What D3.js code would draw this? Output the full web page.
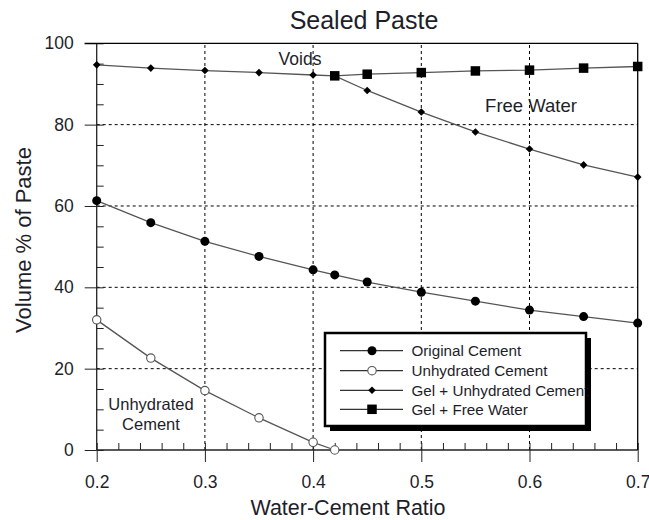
<!DOCTYPE html>
<html>
<head>
<meta charset="utf-8">
<script src="https://cdn.jsdelivr.net/npm/d3@7/dist/d3.min.js"></script>
<style>
  html, body { margin: 0; padding: 0; background: #fff; }
  svg { display: block; font-family: "Liberation Sans", Arial, Helvetica, sans-serif; }
</style>
</head>
<body>
<svg id="chart" width="649" height="520"></svg>
<script>
// Water-cement ratios at which each phase volume was computed
const wcRatio = [0.2, 0.25, 0.3, 0.35, 0.4, 0.42, 0.45, 0.5, 0.55, 0.6, 0.65, 0.7];

// Volume % of paste for each phase
const originalCement = [61.3, 55.9, 51.3, 47.6, 44.3, 43.05, 41.3, 38.8, 36.6, 34.4, 32.8, 31.2];
const unhydratedWc = [0.2, 0.25, 0.3, 0.35, 0.4, 0.42];
const unhydratedCement = [32.0, 22.6, 14.6, 7.9, 1.9, 0.0];
const gelUnhydrated = [94.7, 93.9, 93.3, 92.8, 92.2, 92.0, 88.4, 83.1, 78.2, 74.0, 70.1, 67.1];
const freeWaterWc = [0.42, 0.45, 0.5, 0.55, 0.6, 0.65, 0.7];
const gelFreeWater = [92.0, 92.4, 92.8, 93.2, 93.4, 93.9, 94.3];

const xTicks = [0.2, 0.3, 0.4, 0.5, 0.6, 0.7];
const yTicks = [0, 20, 40, 60, 80, 100];
const legendLabels = ["Original Cement", "Unhydrated Cement", "Gel + Unhydrated Cement", "Gel + Free Water"];

const svg = d3.select("#chart");
const plotLeft = 96.7, plotRight = 637.7, plotTop = 43.3, plotBottom = 450;

const x = d3.scaleLinear().domain([0.2, 0.7]).range([plotLeft, plotRight]);
const y = d3.scaleLinear().domain([0, 100]).range([plotBottom, plotTop]);

const axisColor = "#222";
const lineColor = "#555";
const textColor = "#1e1e2a";

// Dashed grid at interior major ticks
const grid = svg.append("g");
grid.selectAll("line.gx").data(xTicks.filter(d => d > 0.2 && d < 0.7)).join("line")
  .attr("x1", d => x(d)).attr("x2", d => x(d))
  .attr("y1", y(0)).attr("y2", y(100))
  .attr("stroke", "#000").attr("stroke-width", 1).attr("stroke-dasharray", "3,3");
grid.selectAll("line.gy").data(yTicks.filter(d => d > 0 && d < 100)).join("line")
  .attr("x1", x(0.2)).attr("x2", x(0.7))
  .attr("y1", d => y(d)).attr("y2", d => y(d))
  .attr("stroke", "#000").attr("stroke-width", 1).attr("stroke-dasharray", "3,3");

// Bottom axis: major ticks point down, minor ticks point up
const xMajor = d3.axisBottom(x).tickValues(xTicks).tickSize(12).tickPadding(4)
  .tickFormat(d3.format(".1f"));
const gx = svg.append("g").attr("transform", `translate(0,${plotBottom})`).call(xMajor);
gx.select(".domain").remove();
gx.selectAll(".tick line").attr("stroke", axisColor);
gx.selectAll(".tick text").attr("font-size", 17.5).attr("fill", textColor)
  .attr("font-family", "Liberation Sans, Arial, sans-serif").attr("dy", "1.25em");

const xMinor = d3.axisBottom(x).tickValues(d3.range(0.2, 0.7001, 0.02)).tickSize(-7).tickFormat("");
const gxm = svg.append("g").attr("transform", `translate(0,${plotBottom})`).call(xMinor);
gxm.select(".domain").remove();
gxm.selectAll(".tick line").attr("stroke", axisColor);

// Left axis: major ticks point left, minor ticks point right
const yMajor = d3.axisLeft(y).tickValues(yTicks).tickSize(12).tickPadding(11);
const gy = svg.append("g").attr("transform", `translate(${plotLeft},0)`).call(yMajor);
gy.select(".domain").remove();
gy.selectAll(".tick line").attr("stroke", axisColor);
gy.selectAll(".tick text").attr("font-size", 17.5).attr("fill", textColor)
  .attr("font-family", "Liberation Sans, Arial, sans-serif");

const yMinor = d3.axisLeft(y).tickValues(d3.range(0, 100.1, 5)).tickSize(-7).tickFormat("");
const gym = svg.append("g").attr("transform", `translate(${plotLeft},0)`).call(yMinor);
gym.select(".domain").remove();
gym.selectAll(".tick line").attr("stroke", axisColor);

// Frame
svg.append("line").attr("x1", plotLeft).attr("x2", plotRight).attr("y1", plotBottom).attr("y2", plotBottom)
  .attr("stroke", axisColor).attr("stroke-width", 1.3);
svg.append("line").attr("x1", plotLeft).attr("x2", plotLeft).attr("y1", plotTop).attr("y2", plotBottom)
  .attr("stroke", axisColor).attr("stroke-width", 1.3);
svg.append("line").attr("x1", plotLeft - 12).attr("x2", plotRight).attr("y1", plotTop).attr("y2", plotTop)
  .attr("stroke", "#000").attr("stroke-width", 1.3);
svg.append("line").attr("x1", plotRight).attr("x2", plotRight).attr("y1", plotTop).attr("y2", plotBottom)
  .attr("stroke", "#000").attr("stroke-width", 1.3);

// Series
const line = d3.line().x(d => x(d[0])).y(d => y(d[1]));
const zip = (xs, ys) => xs.map((v, i) => [v, ys[i]]);

const series = [
  { pts: zip(wcRatio, originalCement), marker: "dot" },
  { pts: zip(unhydratedWc, unhydratedCement), marker: "open" },
  { pts: zip(wcRatio, gelUnhydrated), marker: "diamond" },
  { pts: zip(freeWaterWc, gelFreeWater), marker: "square" }
];

function drawMarker(g, type, cx, cy) {
  if (type === "dot") {
    g.append("circle").attr("cx", cx).attr("cy", cy).attr("r", 4.5).attr("fill", "#000");
  } else if (type === "open") {
    g.append("circle").attr("cx", cx).attr("cy", cy).attr("r", 4.2)
      .attr("fill", "#fff").attr("stroke", "#555").attr("stroke-width", 1.1);
  } else if (type === "diamond") {
    const h = 3.8;
    g.append("path").attr("d", `M${cx},${cy - h}L${cx + h},${cy}L${cx},${cy + h}L${cx - h},${cy}Z`)
      .attr("fill", "#000");
  } else {
    const s = 9.5;
    g.append("rect").attr("x", cx - s / 2).attr("y", cy - s / 2).attr("width", s).attr("height", s)
      .attr("fill", "#000");
  }
}

const plot = svg.append("g");
series.forEach(s => {
  plot.append("path").datum(s.pts).attr("d", line)
    .attr("fill", "none").attr("stroke", lineColor).attr("stroke-width", 1.3);
});
series.forEach(s => {
  const g = plot.append("g");
  s.pts.forEach(p => drawMarker(g, s.marker, x(p[0]), y(p[1])));
});

// Region labels
const label = (txt, lx, ly, size) => svg.append("text").attr("x", lx).attr("y", ly)
  .attr("text-anchor", "middle").attr("font-size", size).attr("fill", textColor).text(txt);
label("Voids", 300, 65, 17.5);
label("Free Water", 531, 112, 18.5);
label("Unhydrated", 151, 410, 16.5);
label("Cement", 151, 430, 16.5);

// Titles
svg.append("text").attr("x", 364).attr("y", 28.5).attr("text-anchor", "middle")
  .attr("font-size", 25).attr("fill", textColor).text("Sealed Paste");
svg.append("text").attr("x", 348).attr("y", 515).attr("text-anchor", "middle")
  .attr("font-size", 21.5).attr("fill", textColor).text("Water-Cement Ratio");
svg.append("text").attr("transform", "translate(31,240) rotate(-90)").attr("text-anchor", "middle")
  .attr("font-size", 22).attr("fill", textColor).text("Volume % of Paste");

// Legend with drop shadow
const lg = svg.append("g");
const bx = 325, by = 333, bw = 261, bh = 93;
lg.append("rect").attr("x", bx + 5).attr("y", by + 5).attr("width", bw).attr("height", bh).attr("fill", "#000");
lg.append("rect").attr("x", bx).attr("y", by).attr("width", bw).attr("height", bh).attr("fill", "#fff");
const rows = [350.7, 370.7, 390.3, 409.3];
const markers = ["dot", "open", "diamond", "square"];
legendLabels.forEach((t, i) => {
  const ry = rows[i];
  lg.append("line").attr("x1", 340).attr("x2", 403).attr("y1", ry).attr("y2", ry)
    .attr("stroke", "#333").attr("stroke-width", 1.2);
  drawMarker(lg, markers[i], 372, ry);
  lg.append("text").attr("x", 411.5).attr("y", ry + 5.5).attr("font-size", 15.2)
    .attr("fill", textColor).text(t);
});
lg.append("rect").attr("x", bx).attr("y", by).attr("width", bw).attr("height", bh)
  .attr("fill", "none").attr("stroke", "#000").attr("stroke-width", 2.5);
</script>
</body>
</html>
